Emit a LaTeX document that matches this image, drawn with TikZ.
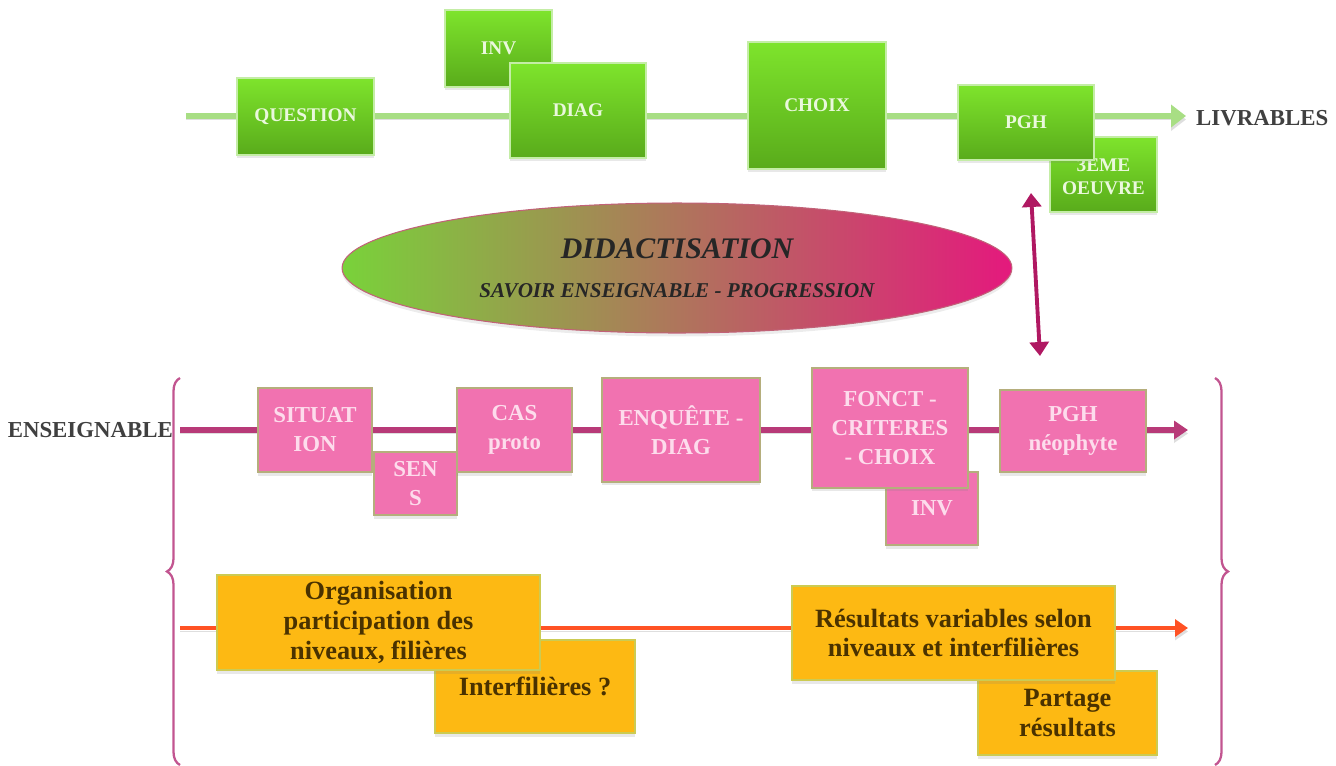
\documentclass[tikz,border=0pt]{standalone}
\usepackage{fontspec}
\setmainfont{Liberation Serif}
\usetikzlibrary{arrows.meta,shapes.geometric,shadows,decorations.pathreplacing}
\definecolor{vertclair}{HTML}{7EE42C}
\definecolor{vertfonce}{HTML}{59AB1B}
\definecolor{vertbord}{HTML}{C4EDA6}
\definecolor{vertligne}{HTML}{A8DE84}
\definecolor{blanc}{HTML}{EAF8DC}
\definecolor{rosefond}{HTML}{F172B0}
\definecolor{rosebord}{HTML}{B5AE7C}
\definecolor{rosetexte}{HTML}{FDDCEC}
\definecolor{roseligne}{HTML}{B83A78}
\definecolor{jaunefond}{HTML}{FDB913}
\definecolor{jaunebord}{HTML}{CCCB52}
\definecolor{brun}{HTML}{4A3200}
\definecolor{rouge}{HTML}{FF5224}
\definecolor{magenta}{HTML}{B01862}
\definecolor{ovalvert}{HTML}{79D23A}
\definecolor{ovalrose}{HTML}{E4197D}
\definecolor{accolade}{HTML}{C25590}
\begin{document}
\begin{tikzpicture}[x=0.02cm,y=-0.02cm,
    boite/.style={rectangle,inner sep=0pt,align=center,
      drop shadow={shadow xshift=0pt,shadow yshift=-0.07cm,opacity=0.18}},
    vert/.style={boite,top color=vertclair,bottom color=vertfonce,draw=vertbord,line width=1pt,
      text=blanc,font=\bfseries\fontsize{11}{13}\selectfont},
    rose/.style={boite,fill=rosefond,draw=rosebord,line width=1.3pt,
      text=rosetexte,font=\bfseries\fontsize{13}{16.5}\selectfont},
    jaune/.style={boite,fill=jaunefond,draw=jaunebord,line width=1.3pt,
      text=brun,font=\bfseries\fontsize{15}{17}\selectfont},
    fleche/.style={line width=3.2pt,
      preaction={draw=black!13,transform canvas={yshift=-0.07cm}}},
    etiquette/.style={text=black!75,font=\bfseries\fontsize{13}{15}\selectfont}
  ]
  \useasboundingbox (0,0) rectangle (1336,765);

  % ligne des livrables
  \coordinate (v0) at (186,116);
  \coordinate (v1) at (1186,116);
  \draw[fleche,vertligne,-{Triangle[length=0.3cm,width=0.44cm]}] (v0) -- (v1);
  \node[etiquette,anchor=west] (livrables) at (1190,118) {LIVRABLES};

  \node[vert,minimum width=2.74cm,minimum height=1.54cm] (question) at (305.5,116.5) {QUESTION};
  \node[vert,minimum width=2.14cm,minimum height=1.54cm] (inv) at (498.5,48.5) {INV};
  \node[vert,minimum width=2.72cm,minimum height=1.9cm] (diag) at (578,110.5) {DIAG};
  \node[vert,minimum width=2.76cm,minimum height=2.54cm] (choix) at (817,105.5) {CHOIX};
  \node[vert,minimum width=2.14cm,minimum height=1.5cm] (oeuvre) at (1103.5,174.5) {3ÈME\\OEUVRE};
  \node[vert,minimum width=2.72cm,minimum height=1.5cm] (pgh) at (1026,122.5) {PGH};

  % didactisation
  \node[ellipse,minimum width=13.4cm,minimum height=2.6cm,left color=ovalvert,right color=ovalrose,
    shading angle=90,draw=accolade!70!brown,line width=0.6pt,align=center,text=black!85,
    drop shadow={shadow xshift=0pt,shadow yshift=-0.07cm,opacity=0.15}] (didac) at (677,268)
    {{\bfseries\itshape\fontsize{17}{20}\selectfont DIDACTISATION}\\[10pt]
     {\bfseries\itshape\fontsize{12}{14}\selectfont SAVOIR ENSEIGNABLE - PROGRESSION}};

  \coordinate (haut) at (1031,193);
  \coordinate (bas) at (1040,356);
  \draw[magenta,line width=2.2pt,{Triangle[length=0.28cm,width=0.38cm]}-{Triangle[length=0.28cm,width=0.38cm]}] (haut) -- (bas);

  % accolades
  \coordinate (ga) at (180,765);
  \coordinate (gb) at (180,378);
  \coordinate (da) at (1215,378);
  \coordinate (db) at (1215,765);
  \draw[accolade,line width=1.3pt,decorate,decoration={brace,amplitude=0.26cm}] (ga) -- (gb);
  \draw[accolade,line width=1.3pt,decorate,decoration={brace,amplitude=0.26cm}] (da) -- (db);

  % ligne enseignable
  \node[etiquette,anchor=east] (enseignable) at (179,430) {ENSEIGNABLE};
  \coordinate (r0) at (180,430);
  \coordinate (r1) at (1188,430);
  \draw[fleche,roseligne,-{Triangle[length=0.28cm,width=0.36cm]}] (r0) -- (r1);

  \node[rose,minimum width=2.28cm,minimum height=1.68cm] (situation) at (315,430) {SITUAT\\ION};
  \node[rose,minimum width=1.66cm,minimum height=1.26cm] (sens) at (415.5,483.5) {SEN\\S};
  \node[rose,minimum width=2.3cm,minimum height=1.68cm] (cas) at (514.5,430) {CAS\\proto};
  \node[rose,minimum width=3.16cm,minimum height=2.08cm] (enquete) at (681,430) {ENQUÊTE -\\DIAG};
  \node[rose,minimum width=1.84cm,minimum height=1.46cm] (inv2) at (932,508.5) {INV};
  \node[rose,minimum width=3.12cm,minimum height=2.4cm] (fonct) at (890,428) {FONCT -\\CRITERES\\- CHOIX};
  \node[rose,minimum width=2.92cm,minimum height=1.64cm] (pgh2) at (1073,431) {PGH\\néophyte};

  % ligne des resultats
  \coordinate (j0) at (180,628);
  \coordinate (j1) at (1188,628);
  \draw[fleche,rouge,line width=2.6pt,-{Triangle[length=0.26cm,width=0.34cm]}] (j0) -- (j1);

  \node[jaune,minimum width=4cm,minimum height=1.86cm] (inter) at (535,686.5) {Interfilières ?};
  \node[jaune,minimum width=6.46cm,minimum height=1.9cm] (orga) at (378.5,622.5)
    {Organisation\\participation des\\niveaux, filières};
  \node[jaune,minimum width=3.58cm,minimum height=1.68cm] (partage) at (1067.5,713) {Partage\\résultats};
  \node[jaune,minimum width=6.46cm,minimum height=1.88cm] (resultats) at (953.5,633)
    {Résultats variables selon\\niveaux et interfilières};
\end{tikzpicture}
\end{document}
